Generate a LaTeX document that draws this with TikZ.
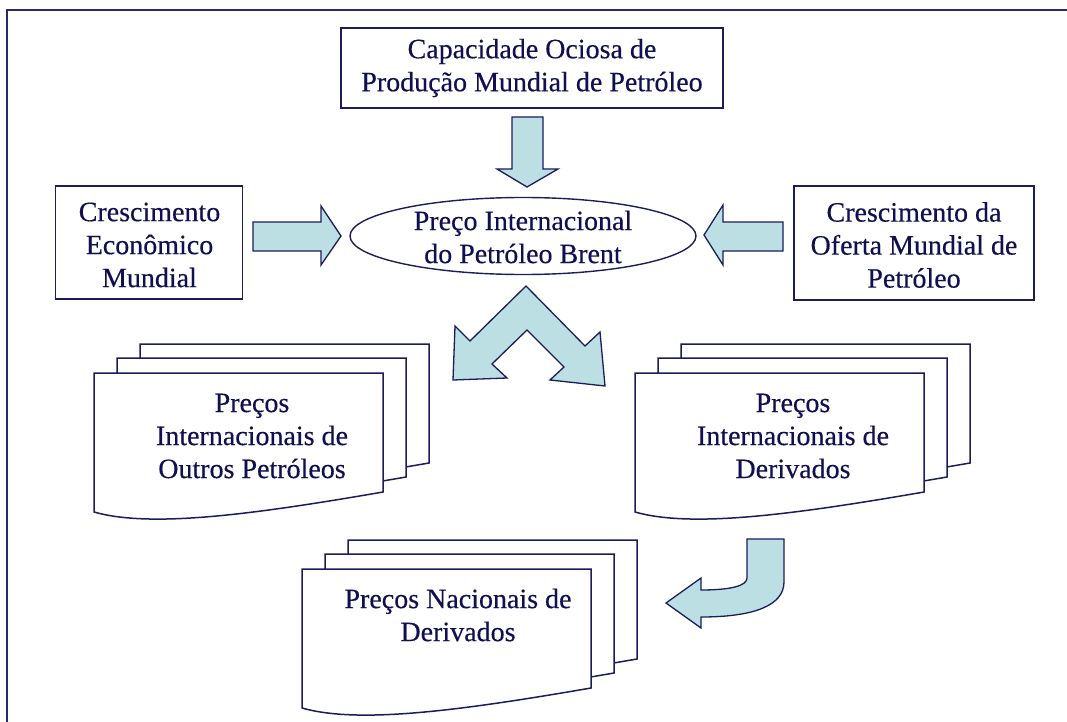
\documentclass[tikz,border=0pt]{standalone}
\usepackage{fontspec}
\setmainfont[FakeBold=0.35]{Liberation Serif}
\usetikzlibrary{shapes.geometric}
\definecolor{navy}{HTML}{1C1C5C}
\definecolor{txt}{HTML}{0F0F52}
\definecolor{afill}{HTML}{BBDFE3}
\definecolor{framec}{HTML}{2A2A66}
\begin{document}
\begin{tikzpicture}[x=1pt,y=-1pt,line join=miter]
\tikzset{
 box/.style={draw=navy, line width=1.4pt, fill=white},
 lbl/.style={text=txt, font=\fontsize{28}{33}\selectfont, align=center, inner sep=0pt},
 blockarrow/.style={draw=navy, line width=1.3pt, fill=afill},
 page/.style={draw=navy, line width=1.5pt, fill=white},
 framel/.style={draw=framec, line width=2pt},
}
\useasboundingbox (0,0) rectangle (1067,722);
% frame
\draw[framel] (7,723) -- (7,10) -- (1068,10);
% boxes
\node[box, lbl, minimum width=382pt, minimum height=80pt] (cap) at (532,68) {Capacidade Ociosa de\\Produção Mundial de Petróleo};
\node[box, minimum width=187pt, minimum height=113pt] (eco) at (149,242.5) {};
\node[lbl] (ecot) at (149.5,245) {Crescimento\\Econômico\\Mundial};
\node[box, minimum width=240pt, minimum height=114pt] (ofe) at (914,243) {};
\node[lbl] (ofet) at (914,245) {Crescimento da\\Oferta Mundial de\\Petróleo};
\node[ellipse, draw=navy, line width=1.4pt, minimum width=346pt, minimum height=77pt, inner sep=0pt] (brent) at (523,236) {};
\node[lbl] (brentt) at (523,237) {Preço Internacional\\do Petróleo Brent};
% block arrows
\draw[blockarrow] (512,117) -- (543,117) -- (543,169) -- (558,169) -- (527,187) -- (497,169) -- (512,169) -- cycle;
\draw[blockarrow] (253,222) -- (321,222) -- (321,206) -- (341,236) -- (321,265) -- (321,251) -- (253,251) -- cycle;
\draw[blockarrow] (783,222) -- (723,222) -- (723,205) -- (704,235) -- (723,265) -- (723,251) -- (783,251) -- cycle;
\draw[blockarrow] (526,286) -- (585,346) -- (600,332) -- (605,386) -- (550,380) -- (564,367) -- (527,330) -- (492,364) -- (507,378) -- (453,380) -- (455,326) -- (470,341) -- cycle;
\draw[blockarrow] (747,539) -- (784,539) -- (784,582) .. controls (784,605) and (755,617) .. (701,617) -- (701,628) -- (666,603) -- (701,578) -- (701,590) .. controls (730,590) and (747,586) .. (747,578) -- cycle;
% document stacks
\foreach \x/\y in {94/373, 635/373, 302/569}{
 \foreach \dx/\dy in {46/-29, 23/-15, 0/0}{
  \begin{scope}[shift={(\x+\dx,\y+\dy)}]
   \draw[page] (0,0) -- (289,0) -- (289,119) .. controls (156,142) and (56,155) .. (0,139) -- cycle;
  \end{scope}
 }
}
\node[lbl] (outros) at (252,436) {Preços\\Internacionais de\\Outros Petróleos};
\node[lbl] (deriv) at (793,436) {Preços\\Internacionais de\\Derivados};
\node[lbl] (nac) at (458,615) {Preços Nacionais de\\Derivados};
\end{tikzpicture}
\end{document}
